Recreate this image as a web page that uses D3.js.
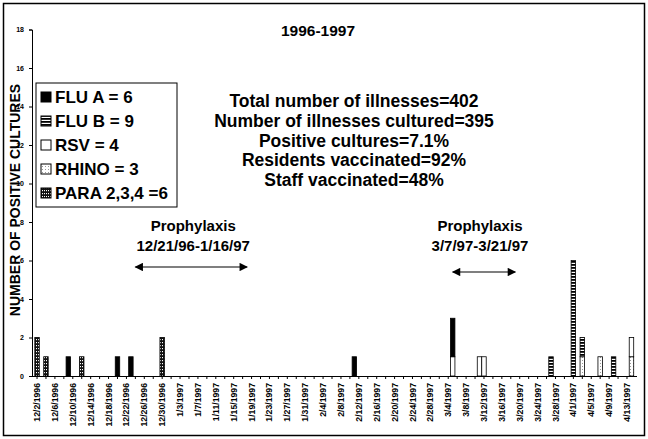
<!DOCTYPE html>
<html lang="en">
<head>
<meta charset="utf-8"/>
<title>1996-1997</title>
<script src="https://cdnjs.cloudflare.com/ajax/libs/d3/7.8.5/d3.min.js"></script>
<style>
  body { margin: 0; background: white; }
  svg text { font-family: "Liberation Sans", Arial, sans-serif; font-weight: bold; fill: black; }
</style>
</head>
<body>
<div id="chart"></div>
<script>
// days that had positive cultures
var barDates = ["1996-12-02","1996-12-04","1996-12-09","1996-12-12","1996-12-20","1996-12-23","1996-12-30",
                "1997-02-11","1997-03-05","1997-03-11","1997-03-12","1997-03-27","1997-04-01","1997-04-03",
                "1997-04-07","1997-04-10","1997-04-14"];
var fluA  = [0,0,1,0,1,1,0, 1,2,0,0,0,0,0, 0,0,0];
var fluB  = [0,0,0,0,0,0,0, 0,0,0,0,1,6,1, 0,1,0];
var rsv   = [0,0,0,0,0,0,0, 0,1,1,1,0,0,0, 0,0,1];
var rhino = [0,0,0,0,0,0,0, 0,0,0,0,0,0,1, 1,0,1];
var para  = [2,1,0,1,0,0,2, 0,0,0,0,0,0,0, 0,0,0];

var legendLabels = ["FLU A = 6", "FLU B = 9", "RSV = 4", "RHINO = 3", "PARA 2,3,4 =6"];
var legendKeys   = ["fluA", "fluB", "rsv", "rhino", "para"];
var yTicks = [0,2,4,6,8,10,12,14,16,18];
var stats = ["Total number of illnesses=402", "Number of illnesses cultured=395",
             "Positive cultures=7.1%", "Residents vaccinated=92%", "Staff vaccinated=48%"];
// prophylaxis arrows (start day, end day) as drawn
var prophylaxis = [
  {title: "Prophylaxis", range: "12/21/96-1/16/97", from: "1996-12-24", to: "1997-01-18"},
  {title: "Prophylaxis", range: "3/7/97-3/21/97",  from: "1997-03-05", to: "1997-03-19"}
];

var W = 648, H = 439;
var parse = d3.timeParse("%Y-%m-%d");
var key = d3.timeFormat("%Y-%m-%d");
var fmt = function(d){ return (d.getMonth()+1) + "/" + d.getDate() + "/" + d.getFullYear(); };

var days = d3.timeDay.range(parse("1996-12-02"), parse("1997-04-15"));

var x = d3.scaleBand().domain(days.map(key)).range([34.8, 633.7]).padding(0);
var y = d3.scaleLinear().domain([0, 18]).range([376, 29.5]);

var svg = d3.select("#chart").append("svg").attr("width", W).attr("height", H);

// patterns
var defs = svg.append("defs");
var pB = defs.append("pattern").attr("id","fluB").attr("patternUnits","userSpaceOnUse").attr("width",4).attr("height",3);
pB.append("rect").attr("width",4).attr("height",3).attr("fill","white");
pB.append("rect").attr("width",4).attr("height",1.8).attr("fill","black");

var pP = defs.append("pattern").attr("id","para").attr("patternUnits","userSpaceOnUse").attr("width",2).attr("height",3);
pP.append("rect").attr("width",2).attr("height",3).attr("fill","#111");
pP.append("rect").attr("width",1).attr("height",1.2).attr("fill","white");

var pR = defs.append("pattern").attr("id","rhino").attr("patternUnits","userSpaceOnUse").attr("width",3).attr("height",3);
pR.append("rect").attr("width",3).attr("height",3).attr("fill","white");
pR.append("rect").attr("width",1).attr("height",1).attr("fill","#999");

var fills = {fluA: "black", fluB: "url(#fluB)", rsv: "white", rhino: "url(#rhino)", para: "url(#para)"};

// outer frame
svg.append("rect").attr("x",3.5).attr("y",3.5).attr("width",641).attr("height",432)
  .attr("fill","none").attr("stroke","black").attr("stroke-width",1.5);

// stacked bars
var rows = barDates.map(function(d, i){
  return {date: d, rhino: rhino[i], rsv: rsv[i], fluB: fluB[i], fluA: fluA[i], para: para[i]};
});
var stack = d3.stack().keys(["rhino","rsv","fluB","fluA","para"]);
var series = stack(rows);

svg.append("g").selectAll("g").data(series).enter().append("g")
  .attr("fill", function(s){ return fills[s.key]; })
  .selectAll("rect").data(function(s){ return s.filter(function(p){ return p[1] > p[0]; }); })
  .enter().append("rect")
  .attr("x", function(p){ return x(p.data.date); })
  .attr("width", x.bandwidth())
  .attr("y", function(p){ return y(p[1]); })
  .attr("height", function(p){ return y(p[0]) - y(p[1]); })
  .attr("stroke","black").attr("stroke-width",0.8);

// x axis
var tickDays = days.filter(function(d, i){ return i % 2 === 0; }).map(key);
var xAxis = d3.axisBottom(x).tickValues(tickDays).tickSize(3)
  .tickFormat(function(k, i){ return i % 2 === 0 ? fmt(parse(k)) : ""; });
var gx = svg.append("g").attr("transform","translate(0,376)").call(xAxis);
gx.select(".domain").attr("d","M32,0.5H637");
gx.selectAll("text").attr("transform","rotate(-90)").attr("x",-7).attr("y",0).attr("dy","0.35em")
  .style("text-anchor","end").style("font-size","8.7px");

// y axis
var gy = svg.append("g").attr("transform","translate(32,0)")
  .call(d3.axisLeft(y).tickValues(yTicks).tickSize(3).tickPadding(5));
gy.selectAll("text").style("font-size","7px");
gy.selectAll("line, path").attr("stroke","black");

svg.append("text").attr("transform","translate(20,200) rotate(-90)")
  .attr("text-anchor","middle").style("font-size","14px").text("NUMBER OF  POSITIVE CULTURES");

// title
svg.append("text").attr("x",318).attr("y",36).attr("text-anchor","middle")
  .style("font-size","15.5px").text("1996-1997");

// stats block
svg.append("g").selectAll("text").data(stats).enter().append("text")
  .attr("x",354).attr("y", function(d, i){ return 107 + i*19.8; })
  .attr("text-anchor","middle").style("font-size","17.5px").text(function(d){ return d; });

// legend
var lg = svg.append("g");
lg.append("rect").attr("x",36).attr("y",83).attr("width",141).attr("height",124)
  .attr("fill","white").attr("stroke","black").attr("stroke-width",1);
var li = lg.selectAll("g").data(legendLabels).enter().append("g")
  .attr("transform", function(d, i){ return "translate(0," + (97 + i*24) + ")"; });
li.append("rect").attr("x",41).attr("y",-5).attr("width",10).attr("height",10)
  .attr("fill", function(d, i){ return fills[legendKeys[i]]; }).attr("stroke","black").attr("stroke-width",1);
li.append("text").attr("x",55).attr("y",6).style("font-size","17px").text(function(d){ return d; });

// prophylaxis annotations
defs.append("marker").attr("id","ah").attr("viewBox","0 0 10 10").attr("refX",9).attr("refY",5)
  .attr("markerWidth",9).attr("markerHeight",7).attr("orient","auto-start-reverse")
  .append("path").attr("d","M0,0L10,5L0,10z").attr("fill","black");

var pg = svg.append("g").selectAll("g").data(prophylaxis).enter().append("g");
pg.each(function(d, i){
  var g = d3.select(this);
  var x0 = x(d.from) + x.bandwidth()/2, x1 = x(d.to) + x.bandwidth()/2;
  var cx = (x0 + x1) / 2 + (i === 0 ? 2 : -4), ay = i === 0 ? 267 : 272;
  g.append("text").attr("x",cx).attr("y",231).attr("text-anchor","middle").style("font-size","15px").text(d.title);
  g.append("text").attr("x",cx).attr("y",251).attr("text-anchor","middle").style("font-size","15px").text(d.range);
  g.append("line").attr("x1",x0).attr("x2",x1).attr("y1",ay).attr("y2",ay)
    .attr("stroke","black").attr("stroke-width",1.2)
    .attr("marker-start","url(#ah)").attr("marker-end","url(#ah)");
});
</script>
</body>
</html>
